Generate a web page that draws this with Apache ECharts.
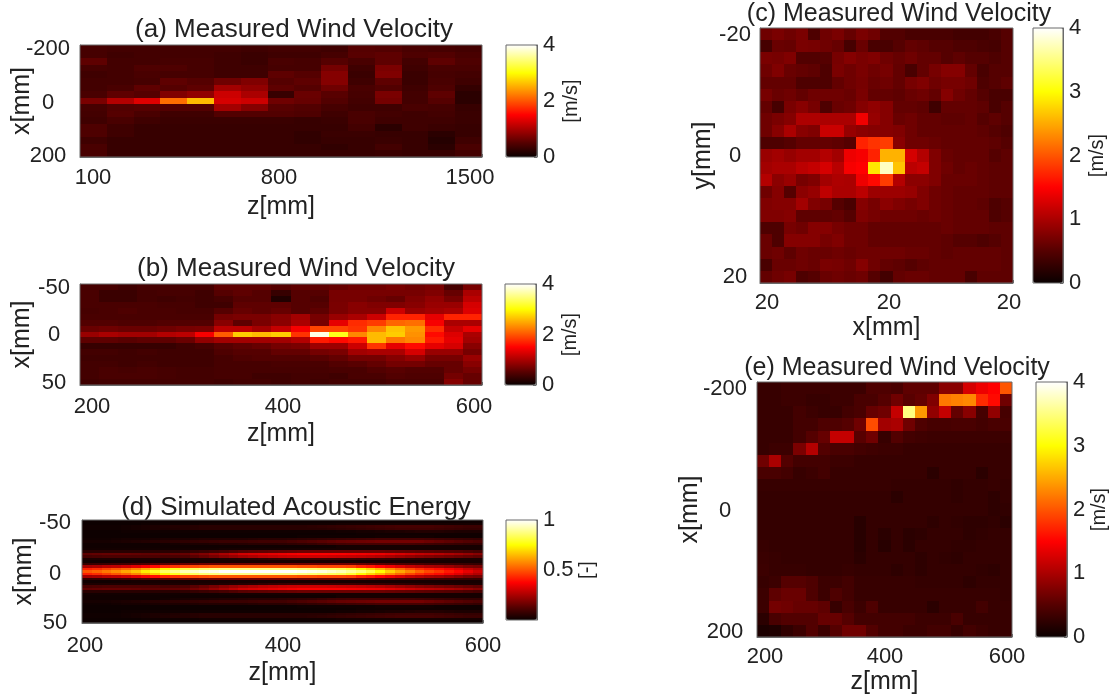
<!DOCTYPE html>
<html><head><meta charset="utf-8">
<style>html,body{margin:0;padding:0;background:#fff}#c{width:1116px;height:700px;filter:blur(0.6px)}</style>
<script src="https://cdn.jsdelivr.net/npm/echarts@6/dist/echarts.min.js"></script>
</head><body><div id="c"></div>
<script>
const hotColors=['#0a0000','#550000','#aa0000','#ff0000','#ff5500','#ffaa00','#ffff00','#ffff80','#ffffff'];

// (a) 17 rows x 15 columns, m/s
const velocityA=[
[.4,.38,.38,.38,.38,.38,.35,.38,.38,.35,.5,.48,.42,.4,.38],
[.4,.35,.38,.38,.38,.35,.32,.35,.35,.4,.52,.55,.45,.48,.42],
[.55,.38,.38,.4,.4,.35,.32,.42,.4,.5,.42,.55,.38,.55,.45],
[.4,.38,.45,.45,.4,.35,.35,.4,.4,.68,.35,.72,.35,.42,.42],
[.35,.38,.42,.4,.4,.35,.35,.55,.5,.78,.32,.75,.32,.4,.38],
[.38,.38,.4,.55,.5,.65,.75,.5,.55,.78,.35,.55,.32,.42,.35],
[.38,.42,.55,.5,.55,.95,.85,.55,.5,.65,.42,.48,.35,.45,.28],
[.42,.55,.5,.75,.85,1.2,1.0,.3,.62,.52,.4,.72,.38,.55,.22],
[.72,1.05,1.3,2.15,2.6,1.25,1.2,.65,.6,.48,.38,.68,.38,.5,.22],
[.4,.48,.5,.48,.48,.95,.78,.52,.48,.4,.35,.35,.42,.4,.3],
[.38,.5,.42,.35,.35,.48,.48,.48,.45,.35,.42,.38,.35,.38,.32],
[.35,.42,.35,.32,.32,.32,.32,.32,.3,.32,.42,.35,.35,.35,.32],
[.45,.35,.3,.3,.3,.3,.3,.3,.3,.3,.38,.22,.35,.32,.3],
[.45,.35,.3,.3,.3,.3,.3,.3,.26,.32,.32,.3,.3,.22,.3],
[.35,.3,.3,.3,.3,.3,.3,.3,.26,.3,.3,.32,.3,.18,.35],
[.42,.3,.3,.3,.3,.3,.3,.3,.3,.26,.3,.38,.3,.22,.42],
[.42,.3,.3,.3,.3,.3,.3,.3,.3,.3,.3,.32,.3,.3,.38]];

// (b) 17 rows x 21 columns, m/s
const velocityB=[
[.4,.4,.35,.4,.4,.4,.4,.55,.55,.55,.5,.55,.55,.6,.65,.65,.7,.65,.7,.4,.7],
[.42,.32,.32,.38,.4,.4,.35,.5,.55,.5,.3,.5,.5,.7,.7,.7,.7,.7,.75,.6,1.0],
[.42,.32,.32,.38,.35,.38,.35,.4,.5,.5,.15,.5,.45,.7,.7,.65,.6,.75,.85,.7,1.1],
[.42,.42,.42,.42,.4,.4,.35,.35,.55,.55,.55,.5,.5,.72,.8,.75,.75,.8,.9,.9,1.25],
[.4,.42,.45,.42,.42,.4,.4,.5,.6,.55,.6,.5,.55,.72,.8,.8,1.2,.9,.95,1.0,1.3],
[.42,.42,.42,.42,.42,.42,.42,.68,.72,.72,.8,.95,.7,.9,1.0,1.2,1.7,1.7,1.35,1.7,1.7],
[.48,.48,.45,.45,.48,.48,.48,.8,.55,.72,.82,1.0,.7,1.35,1.75,1.85,2.1,2.15,1.45,1.0,1.0],
[.62,.65,.62,.62,.65,.7,.72,1.1,1.1,.95,1.15,1.45,1.9,1.9,1.8,2.3,2.65,2.4,1.75,1.15,1.35],
[.9,1.0,.95,.95,1.05,1.1,1.45,2.05,2.7,2.6,2.7,1.8,3.9,3.1,2.3,2.6,2.7,2.35,1.55,1.3,1.0],
[.55,.55,.52,.55,.55,.62,.85,.95,.95,.95,.95,1.05,1.65,1.55,1.65,2.6,2.2,2.3,1.65,1.35,.95],
[.3,.3,.3,.3,.3,.35,.4,.5,.55,.6,.68,.72,.92,.92,1.2,1.8,1.35,1.55,1.35,1.25,.8],
[.38,.38,.35,.38,.35,.35,.35,.45,.5,.5,.58,.58,.68,.72,.95,1.0,1.0,1.25,.9,.9,.7],
[.35,.35,.35,.35,.35,.35,.35,.4,.45,.48,.48,.48,.52,.58,.68,.68,.78,.88,.7,.7,.9],
[.38,.38,.35,.38,.35,.35,.35,.4,.4,.4,.42,.42,.42,.48,.52,.58,.68,.68,.6,.6,.8],
[.38,.42,.4,.42,.4,.38,.38,.4,.4,.4,.4,.4,.4,.42,.42,.48,.52,.48,.48,.6,.7],
[.38,.42,.42,.42,.4,.38,.38,.4,.4,.35,.35,.38,.38,.35,.42,.42,.48,.45,.45,.68,.6],
[.35,.38,.38,.38,.38,.38,.38,.35,.38,.38,.35,.38,.35,.38,.38,.38,.42,.42,.42,.78,.6]];

// (c) 21 rows x 21 columns, m/s
const velocityC=[
[.65,.72,.65,.72,.45,.65,.72,.6,.72,.65,.48,.48,.42,.42,.42,.42,.38,.38,.38,.42,.5],
[.4,.62,.6,.72,.7,.65,.6,.4,.62,.42,.42,.5,.58,.55,.5,.5,.45,.45,.42,.4,.5],
[.72,.7,.75,.48,.48,.5,.7,.78,.72,.75,.65,.6,.65,.58,.58,.5,.55,.5,.5,.45,.5],
[.65,.75,.62,.58,.55,.45,.72,.65,.72,.65,.7,.58,.42,.58,.7,.78,.78,.58,.42,.5,.5],
[.58,.58,.58,.45,.45,.45,.58,.65,.7,.62,.65,.58,.7,.75,.65,.7,.7,.65,.45,.5,.55],
[.7,.62,.65,.58,.65,.65,.65,.62,.72,.58,.58,.55,.62,.65,.58,.78,.65,.58,.5,.42,.42],
[.58,.4,.72,.8,.7,.45,.62,.65,.78,.85,.78,.58,.58,.55,.35,.58,.58,.58,.55,.42,.5],
[.65,.72,.78,1.02,1.02,1.0,1.0,1.0,1.42,.88,.78,.62,.65,.58,.58,.55,.55,.58,.5,.55,.5],
[.65,.8,1.0,.8,.75,1.18,1.18,.88,.82,.78,.78,.75,.65,.58,.58,.58,.58,.58,.55,.5,.45],
[.45,.45,.5,.58,.58,.58,.55,.5,1.7,1.8,1.85,.8,.65,.65,.62,.58,.58,.58,.58,.55,.5],
[.9,.95,.88,.95,.95,1.05,.95,1.4,1.45,1.7,2.55,2.55,1.25,1.05,.75,.62,.58,.58,.58,.5,.55],
[.95,1.0,1.0,1.1,1.15,1.25,1.08,1.45,1.5,2.85,3.75,2.65,1.1,1.15,.75,.65,.58,.62,.58,.55,.55],
[1.05,.82,.9,.7,.75,.95,1.02,1.0,1.4,1.55,1.85,1.05,.82,.82,.75,.62,.62,.62,.58,.55,.55],
[.65,.78,.5,.82,.88,1.12,1.0,1.0,1.1,.92,.92,.92,.88,.75,.65,.62,.58,.58,.58,.55,.55],
[.75,.78,.78,.95,.75,.7,.5,.42,.78,.7,.82,.75,.7,.75,.65,.62,.58,.58,.55,.45,.5],
[.75,.75,.78,.55,.55,.55,.58,.5,.75,.7,.65,.65,.65,.62,.65,.62,.58,.58,.58,.45,.5],
[.45,.45,.7,.65,.78,.78,.7,.65,.65,.58,.58,.58,.58,.58,.58,.62,.58,.58,.58,.55,.55],
[.62,.45,.78,.78,.78,.7,.75,.65,.65,.58,.58,.58,.58,.58,.58,.55,.5,.5,.45,.5,.55],
[.62,.65,.55,.65,.62,.62,.65,.62,.65,.65,.65,.65,.62,.62,.58,.55,.58,.58,.58,.58,.55],
[.42,.62,.62,.65,.62,.72,.7,.65,.78,.65,.58,.55,.5,.55,.58,.58,.58,.58,.58,.58,.55],
[.58,.65,.7,.45,.5,.62,.65,.62,.65,.5,.38,.58,.62,.62,.58,.58,.58,.42,.55,.55,.55]];

// (e) 21 rows x 21 columns, m/s
const velocityE=[
[.3,.3,.33,.33,.33,.33,.33,.33,.33,.45,.45,.42,.55,.55,.55,.8,.8,1.25,1.4,1.5,2.0],
[.3,.3,.33,.33,.3,.3,.33,.33,.42,.42,.5,.65,.52,.58,.75,2.2,2.25,2.3,1.75,1.55,.65],
[.3,.3,.3,.38,.33,.3,.3,.38,.42,.6,.65,1.15,3.5,2.4,.85,1.15,.58,.8,.4,.85,.4],
[.3,.3,.3,.38,.38,.45,.45,.5,.65,1.95,.95,1.0,.65,.45,.4,.4,.42,.42,.38,.42,.42],
[.3,.3,.3,.38,.5,.6,1.15,1.15,.52,.65,.3,.48,.38,.35,.33,.33,.33,.33,.33,.33,.33],
[.3,.33,.33,.72,1.05,.48,.42,.42,.38,.35,.33,.33,.3,.3,.3,.3,.3,.3,.3,.3,.3],
[.65,1.0,.48,.38,.38,.38,.33,.33,.3,.3,.3,.3,.3,.3,.3,.3,.3,.3,.3,.3,.3],
[.42,.42,.38,.3,.33,.38,.3,.3,.3,.3,.3,.3,.3,.3,.22,.3,.3,.3,.22,.3,.3],
[.3,.3,.3,.3,.3,.3,.3,.3,.3,.3,.3,.28,.28,.28,.28,.28,.25,.28,.28,.3,.28],
[.28,.28,.28,.28,.28,.28,.28,.28,.28,.28,.28,.22,.28,.28,.28,.28,.25,.28,.28,.24,.28],
[.28,.28,.28,.28,.28,.28,.28,.28,.28,.28,.28,.28,.28,.28,.28,.28,.28,.28,.28,.24,.26],
[.28,.28,.28,.28,.28,.28,.28,.28,.2,.28,.28,.28,.28,.28,.24,.28,.26,.24,.24,.26,.22],
[.28,.28,.28,.28,.28,.28,.28,.28,.2,.28,.22,.28,.22,.24,.28,.28,.28,.24,.26,.28,.28],
[.3,.28,.28,.28,.28,.28,.28,.28,.2,.28,.2,.28,.22,.28,.28,.28,.26,.26,.28,.28,.28],
[.32,.3,.28,.28,.28,.28,.28,.28,.22,.28,.28,.28,.28,.24,.28,.26,.24,.28,.28,.28,.28],
[.33,.3,.3,.3,.28,.28,.28,.3,.28,.28,.28,.24,.28,.24,.28,.28,.28,.28,.26,.24,.28],
[.3,.33,.5,.5,.45,.33,.33,.38,.3,.3,.3,.3,.3,.28,.28,.28,.28,.24,.28,.28,.28],
[.33,.55,.62,.62,.45,.33,.45,.38,.3,.3,.3,.3,.3,.3,.3,.3,.3,.3,.3,.3,.28],
[.33,.68,.65,.6,.6,.55,.3,.42,.33,.45,.3,.3,.3,.3,.22,.3,.3,.3,.38,.3,.3],
[.22,.42,.48,.48,.48,.6,.6,.5,.38,.38,.38,.38,.38,.33,.33,.33,.42,.3,.3,.3,.3],
[.12,.14,.25,.33,.48,.33,.5,.65,.65,.48,.38,.38,.33,.33,.38,.38,.3,.38,.33,.3,.3]];

// (d) upper half plus centre line of the symmetric field: 21 rows x 41 columns, unitless
const energyHalf=[
[.005,.005,.005,.005,.005,.005,.005,.005,.005,.005,.005,.005,.005,.005,.005,.005,.005,.005,.005,.005,.005,.005,.005,.005,.005,.005,.005,.005,.005,.005,.005,.005,.005,.005,.005,.005,.005,.005,.005,.005,.005],
[.005,.005,.005,.005,.005,.005,.01,.01,.01,.01,.01,.01,.015,.015,.015,.015,.015,.015,.015,.015,.015,.015,.015,.015,.015,.015,.02,.02,.02,.02,.02,.02,.02,.02,.02,.02,.02,.02,.02,.02,.02],
[.01,.01,.01,.01,.015,.02,.025,.03,.035,.04,.04,.045,.05,.05,.05,.05,.05,.05,.05,.05,.05,.05,.05,.055,.06,.065,.07,.075,.08,.085,.09,.095,.1,.1,.1,.1,.095,.09,.085,.08,.08],
[.01,.01,.01,.01,.015,.02,.025,.03,.03,.035,.04,.045,.05,.05,.05,.05,.05,.05,.05,.05,.05,.05,.05,.05,.05,.055,.06,.065,.07,.075,.08,.085,.09,.09,.09,.09,.085,.08,.075,.07,.07],
[.005,.005,.005,.005,.01,.01,.01,.01,.01,.01,.01,.01,.01,.01,.01,.01,.01,.01,.01,.01,.01,.01,.01,.01,.01,.01,.015,.015,.02,.02,.025,.03,.03,.035,.04,.04,.04,.035,.03,.03,.03],
[.005,.005,.005,.005,.005,.005,.005,.005,.005,.005,.005,.005,.005,.005,.005,.005,.005,.005,.005,.005,.005,.005,.005,.005,.005,.005,.005,.005,.01,.01,.01,.01,.01,.01,.01,.01,.01,.01,.01,.01,.01],
[.005,.005,.005,.005,.005,.005,.005,.005,.005,.005,.005,.005,.005,.005,.005,.005,.005,.005,.005,.005,.005,.005,.01,.01,.01,.01,.01,.01,.01,.01,.015,.015,.015,.015,.015,.015,.01,.01,.01,.01,.01],
[.01,.01,.01,.015,.02,.02,.02,.025,.03,.03,.03,.035,.04,.04,.04,.04,.04,.045,.05,.05,.05,.055,.06,.065,.07,.075,.08,.085,.09,.095,.1,.1,.1,.1,.1,.095,.09,.085,.08,.075,.07],
[.02,.02,.02,.025,.03,.035,.04,.045,.05,.055,.06,.065,.07,.075,.08,.08,.08,.085,.09,.09,.09,.1,.11,.12,.13,.14,.15,.155,.16,.165,.17,.17,.17,.17,.17,.16,.15,.14,.13,.12,.11],
[.01,.01,.01,.01,.01,.01,.01,.01,.015,.02,.025,.03,.03,.035,.04,.04,.045,.05,.05,.05,.055,.06,.065,.07,.08,.09,.095,.1,.1,.1,.1,.1,.1,.1,.095,.09,.085,.08,.075,.07,.07],
[.01,.01,.01,.01,.01,.01,.01,.01,.01,.01,.01,.01,.01,.01,.01,.01,.01,.01,.01,.01,.01,.01,.01,.01,.01,.01,.02,.02,.02,.02,.02,.02,.02,.02,.02,.02,.02,.02,.02,.02,.02],
[.015,.015,.015,.015,.015,.015,.015,.015,.015,.015,.015,.015,.015,.015,.02,.02,.02,.02,.02,.02,.02,.02,.02,.02,.02,.02,.02,.02,.02,.02,.02,.02,.02,.02,.02,.02,.02,.02,.02,.02,.02],
[.05,.05,.05,.05,.05,.05,.05,.05,.05,.05,.06,.07,.08,.09,.1,.115,.13,.135,.14,.145,.15,.155,.16,.16,.16,.16,.16,.16,.16,.16,.16,.155,.15,.145,.14,.135,.13,.125,.12,.11,.1],
[.14,.145,.15,.15,.15,.145,.14,.14,.14,.145,.15,.17,.19,.22,.25,.28,.31,.32,.33,.34,.35,.36,.37,.37,.37,.37,.37,.365,.36,.355,.35,.335,.32,.305,.29,.28,.27,.255,.24,.22,.2],
[.1,.105,.11,.11,.11,.11,.11,.11,.1,.105,.11,.13,.15,.175,.2,.22,.24,.255,.27,.28,.29,.295,.3,.3,.3,.295,.29,.285,.28,.27,.26,.245,.23,.215,.2,.19,.18,.17,.16,.15,.14],
[.03,.03,.03,.03,.03,.03,.03,.03,.03,.03,.03,.03,.03,.03,.035,.04,.045,.05,.06,.07,.075,.08,.08,.08,.08,.08,.08,.08,.075,.07,.07,.065,.06,.055,.05,.045,.04,.035,.03,.03,.03],
[.01,.01,.01,.012,.015,.018,.02,.02,.02,.02,.02,.02,.02,.02,.02,.02,.02,.02,.02,.02,.02,.02,.02,.02,.02,.02,.02,.02,.02,.02,.02,.02,.02,.02,.02,.02,.02,.02,.02,.02,.02],
[.07,.075,.08,.085,.09,.1,.11,.12,.13,.14,.15,.15,.16,.16,.16,.16,.16,.16,.16,.16,.16,.16,.16,.16,.16,.16,.16,.16,.15,.14,.13,.12,.11,.105,.1,.09,.09,.085,.08,.075,.07],
[.24,.25,.27,.28,.3,.33,.36,.39,.43,.45,.47,.48,.49,.5,.5,.5,.5,.5,.5,.5,.5,.5,.49,.49,.48,.48,.48,.47,.43,.41,.38,.35,.32,.29,.27,.25,.24,.22,.2,.18,.17],
[.42,.44,.47,.5,.53,.57,.62,.67,.74,.78,.82,.84,.86,.87,.88,.88,.88,.88,.88,.88,.88,.88,.87,.86,.85,.84,.83,.8,.74,.69,.64,.58,.53,.48,.44,.41,.39,.36,.33,.29,.26],
[.5,.52,.55,.58,.62,.66,.72,.78,.85,.89,.93,.95,.97,.98,1,1,1,1,1,1,1,1,.99,.98,.97,.95,.93,.9,.87,.82,.75,.68,.62,.57,.52,.48,.45,.41,.38,.34,.3]];
const energyD=energyHalf.concat(energyHalf.slice(0,-1).reverse());

const xTicksA=[100,800,1500], yTicksA=[-200,0,200], xTextA=['100','800','1500'], yTextA=['-200','0','200'];
const xTicksB=[200,400,600],  yTicksB=[-50,0,50],   xTextB=['200','400','600'],  yTextB=['-50','0','50'];
const xTicksC=[-20,0,20],     yTicksC=[-20,0,20],   xTextC=['20','20','20'],     yTextC=['-20','0','20'];
const xTicksD=[200,400,600],  yTicksD=[-50,0,50],   xTextD=['200','400','600'],  yTextD=['-50','0','50'];
const xTicksE=[200,400,600],  yTicksE=[-200,0,200], xTextE=['200','400','600'],  yTextE=['-200','0','200'];
const barTicksSmall=[0,2,4], barTicksBig=[0,1,2,3,4], barTicksD=[.5,1];

const panels=[
 {title:'(a) Measured Wind Velocity',fs:26,tx:289,ty:12,g:[80,45,402,112],bar:[506,45,31,112],data:velocityA,xt:xTicksA,yt:yTicksA,xs:xTextA,ys:yTextA,
  xlab:[93,279,470],ylab:[49,103,156],xm:10,ym:32,xn:'z[mm]',yn:'x[mm]',max:4,bt:barTicksSmall,bn:'[m/s]',bgap:24,xg:37.5,yg:45.5},
 {title:'(b) Measured Wind Velocity',fs:26,tx:291,ty:251,g:[80,284,402,101],bar:[505,284,31,101],data:velocityB,xt:xTicksB,yt:yTicksB,xs:xTextB,ys:yTextB,
  xlab:[92,283,474],ylab:[288,335,383],xm:11,ym:26,xn:'z[mm]',yn:'x[mm]',max:4,bt:barTicksSmall,bn:'[m/s]',bgap:24,xg:36.5,yg:45.5},
 {title:'(d) Simulated Acoustic Energy',fs:26,tx:291,ty:490,g:[82,520,401,103],bar:[506,520,31,100],data:energyD,xt:xTicksD,yt:yTicksD,xs:xTextD,ys:yTextD,
  xlab:[85,283,483],ylab:[523,574,623],xm:12,ym:27,xn:'z[mm]',yn:'x[mm]',max:1,bt:barTicksD,bn:'[-]',bgap:40,xg:37.5,yg:45.5},
 {title:'(c) Measured Wind Velocity',fs:25,tx:894,ty:-3,g:[760,28,253,255],bar:[1033,28,30,255],data:velocityC,xt:xTicksC,yt:yTicksC,xs:xTextC,ys:yTextC,
  xlab:[767,889,1009],ylab:[35,156,277],xm:9,ym:25,xn:'x[mm]',yn:'y[mm]',max:4,bt:barTicksBig,bn:'[m/s]',bgap:24,xg:32.5,yg:44.5},
 {title:'(e) Measured Wind Velocity',fs:25,tx:892,ty:351,g:[757,382,255,255],bar:[1036,382,31,255],data:velocityE,xt:xTicksE,yt:yTicksE,xs:xTextE,ys:yTextE,
  xlab:[765,885,1007],ylab:[389,511,632],xm:9,ym:32,xn:'z[mm]',yn:'x[mm]',max:4,bt:barTicksBig,bn:'[m/s]',bgap:22,xg:32.5,yg:54.5}
];

const FONT='"Liberation Sans",Arial,sans-serif', INK='#222', LINE='#6a6a6a';
const nearest=(arr,v)=>{let b=0;arr.forEach((a,i)=>{if(Math.abs(a-v)<Math.abs(arr[b]-v))b=i;});return b;};
// cell drawn through the axes' own scales, snapped to whole pixels so neighbouring cells leave no seam
function renderCell(params,api){
  const c=api.coord([api.value(0),api.value(1)]), s=api.size([1,1]);
  const x0=Math.round(c[0]-s[0]/2), x1=Math.round(c[0]+s[0]/2), y0=Math.round(c[1]-s[1]/2), y1=Math.round(c[1]+s[1]/2);
  return {type:'rect',shape:{x:x0,y:y0,width:x1-x0,height:y1-y0},style:{fill:api.visual('color')},silent:true};
}
const option={animation:false,backgroundColor:'#fff',title:[],grid:[],xAxis:[],yAxis:[],series:[],visualMap:[]};
panels.forEach((p,i)=>{
  option.title.push({text:p.title,left:p.tx,top:p.ty,textAlign:'center',textStyle:{fontFamily:FONT,fontSize:p.fs,fontWeight:'normal',color:INK}});
  const gi=option.grid.length;
  const frame={show:true,borderColor:LINE,borderWidth:1,backgroundColor:'transparent',containLabel:false,z:9};
  option.grid.push({left:p.g[0],top:p.g[1],width:p.g[2],height:p.g[3],...frame});
  option.grid.push({left:p.bar[0],top:p.bar[1],width:p.bar[2],height:p.bar[3],...frame});
  const xc=option.xAxis.length, yc=option.yAxis.length;
  option.xAxis.push({type:'category',gridIndex:gi,show:false,data:p.data[0].map((_,k)=>k)});
  option.yAxis.push({type:'category',gridIndex:gi,show:false,inverse:true,data:p.data.map((_,k)=>k)});
  const xmin=p.xt[0],xmax=p.xt[p.xt.length-1],ymin=p.yt[0],ymax=p.yt[p.yt.length-1];
  // tick labels in the reference sit off their ticks: position them in axis units from measured pixels
  const xLabVals=p.xlab.map(px=>xmin+(px-p.g[0])/p.g[2]*(xmax-xmin));
  const yLabVals=p.ylab.map(py=>ymin+(py-p.g[1])/p.g[3]*(ymax-ymin));
  const lab={fontFamily:FONT,fontSize:22,color:INK,hideOverlap:false};
  option.xAxis.push({type:'value',gridIndex:gi,min:xmin,max:xmax,position:'bottom',
    name:p.xn,nameLocation:'middle',nameGap:p.xg,nameMoveOverlap:false,nameTextStyle:{fontFamily:FONT,fontSize:25,color:INK},
    axisLine:{show:true,onZero:false,lineStyle:{color:LINE}},splitLine:{show:false},
    axisTick:{show:true,inside:true,length:3,customValues:p.xt,lineStyle:{color:LINE}},
    axisLabel:{...lab,margin:p.xm,customValues:xLabVals,formatter:v=>p.xs[nearest(xLabVals,v)]}});
  option.yAxis.push({type:'value',gridIndex:gi,inverse:true,min:ymin,max:ymax,position:'left',
    name:p.yn,nameLocation:'middle',nameRotate:90,nameGap:p.yg,nameMoveOverlap:false,nameTextStyle:{fontFamily:FONT,fontSize:25,color:INK},
    axisLine:{show:true,onZero:false,lineStyle:{color:LINE}},splitLine:{show:false},
    axisTick:{show:true,inside:true,length:3,customValues:p.yt,lineStyle:{color:LINE}},
    axisLabel:{...lab,align:'center',margin:p.ym,customValues:yLabVals,formatter:v=>p.ys[nearest(yLabVals,v)]}});
  option.xAxis.push({type:'value',gridIndex:gi+1,show:false,min:0,max:1});
  option.yAxis.push({type:'value',gridIndex:gi+1,position:'right',min:0,max:p.max,
    name:p.bn,nameLocation:'middle',nameRotate:90,nameGap:p.bgap,nameMoveOverlap:false,nameTextStyle:{fontFamily:FONT,fontSize:20,color:INK},
    axisLine:{show:true,onZero:false,lineStyle:{color:LINE}},splitLine:{show:false},
    axisTick:{show:true,inside:true,length:3,customValues:p.bt,lineStyle:{color:LINE}},
    axisLabel:{fontFamily:FONT,fontSize:22,color:INK,margin:6,align:'left',customValues:p.bt,hideOverlap:false,formatter:v=>String(v)}});
  option.series.push({type:'custom',xAxisIndex:xc,yAxisIndex:yc,silent:true,renderItem:renderCell,encode:{x:0,y:1},progressive:0,
    data:p.data.flatMap((r,y)=>r.map((v,x)=>[x,y,v]))});
  option.visualMap.push({type:'continuous',seriesIndex:i,dimension:2,min:0,max:p.max,calculable:false,hoverLink:false,realtime:false,
    left:p.bar[0],top:p.bar[1],itemWidth:p.bar[2],itemHeight:p.bar[3],padding:0,showLabel:false,text:null,orient:'vertical',
    inRange:{color:hotColors}});
});
const chart=echarts.init(document.getElementById('c'),null,{renderer:'canvas'});
chart.setOption(option);
</script></body></html>
